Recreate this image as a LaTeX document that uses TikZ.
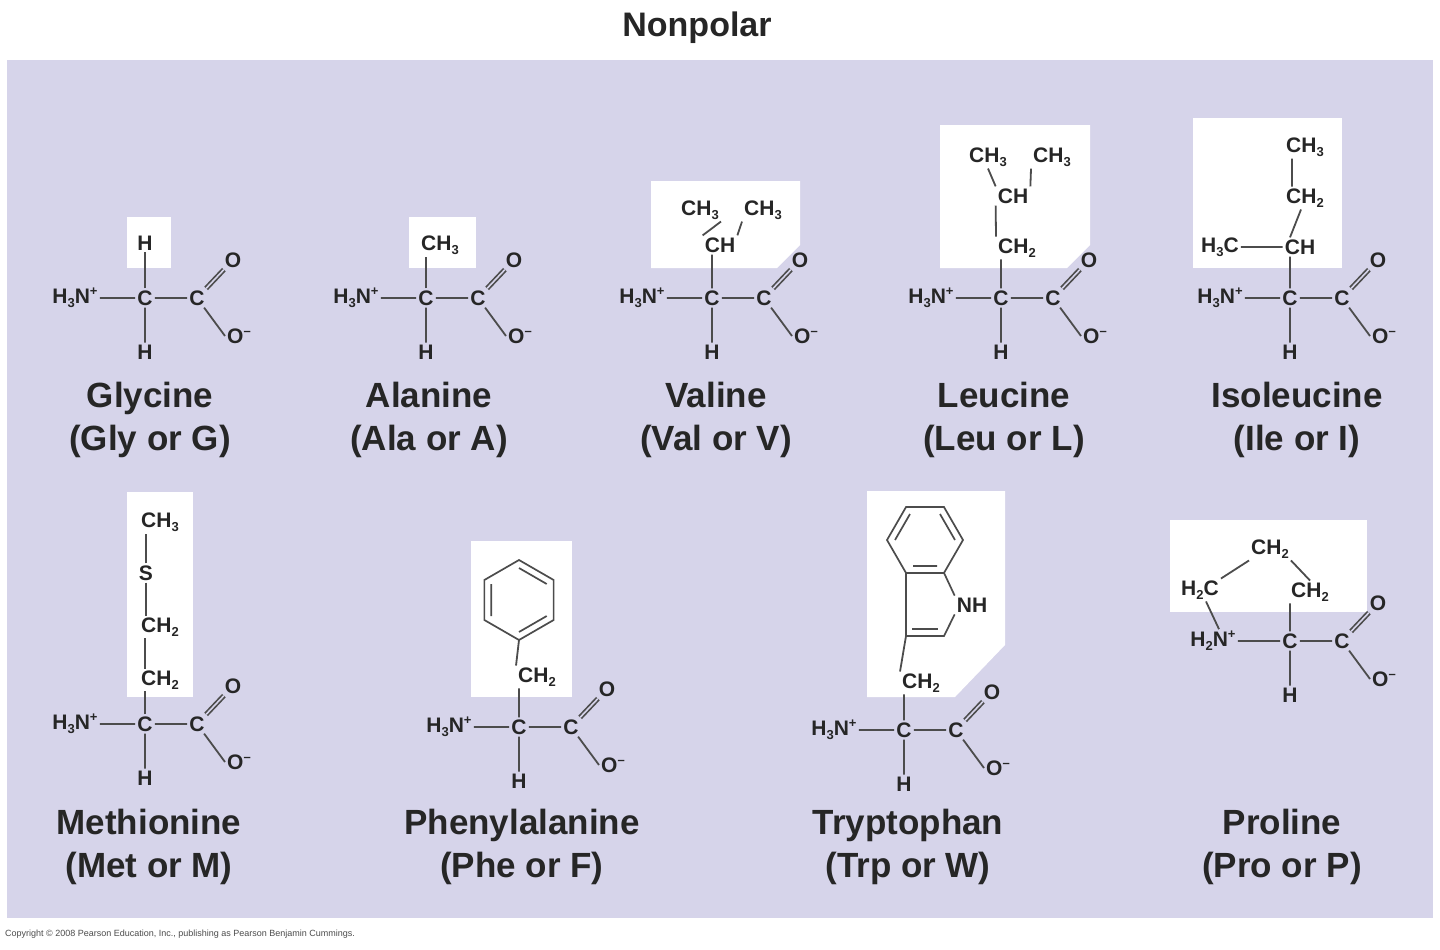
\documentclass[tikz,border=0pt]{standalone}
\usepackage{fontspec}
\setmainfont{Liberation Sans}
\usetikzlibrary{calc}
\definecolor{bg}{HTML}{D6D4EA}
\newcommand\lo[1]{\raisebox{-0.35ex}{\fontsize{13}{13}\selectfont #1}}
\newcommand\hi[1]{\raisebox{0.7ex}{\fontsize{13}{13}\selectfont #1}}
\newcommand\amino[5]{%
 \node[atom] (#1C) at (#2,#3) {C};
 \node[atom] (#1N) at ($(#1C)+(#4,0)$) {#5};
 \node[atom] (#1K) at ($(#1C)+(52,0)$) {C};
 \node[atom] (#1O) at ($(#1C)+(88,-38)$) {O};
 \node[atom] (#1M) at ($(#1C)+(94,38)$) {O\hi{--}};
 \node[atom] (#1H) at ($(#1C)+(0,54)$) {H};
 \draw[bond] (#1N)--(#1C) (#1C)--(#1K) (#1K)--(#1M.west) (#1C)--(#1H);
 \draw[dbond] (#1K)--(#1O);}
\newcommand\hexa[3]{% center, start angle, radius
 \draw[ring] ($(#1)+(#2:#3)$) \foreach \k in {1,...,5} {-- ($(#1)+(#2+60*\k:#3)$)} -- cycle;}
\newcommand\inner[4]{% center, angle a, angle b, radius
 \draw[ring] ($(#1)!0.14!(#2:#4)$) ($(#1)+(#2:#4*0.8)$) -- ($(#1)+(#3:#4*0.8)$);}
\tikzset{
 atom/.style={font=\fontsize{21}{21}\selectfont\bfseries, text=black!85, inner sep=2pt},
 bond/.style={draw=black!70, line width=1.8pt},
 dbond/.style={draw=black!70, line width=5pt, postaction={draw=bg, line width=1.6pt}},
 ring/.style={draw=black!70, line width=1.7pt},
 nm/.style={font=\fontsize{35}{43}\selectfont\bfseries, text=black!85, align=center},
 box/.style={fill=white}
}
\begin{document}
\begin{tikzpicture}[x=1pt,y=-1pt]
\useasboundingbox (0,0) rectangle (1440,950);
\fill[white] (0,0) rectangle (1440,950);
\fill[bg] (7,60) rectangle (1433,918);
\node[font=\fontsize{34}{34}\selectfont\bfseries, text=black!85] (title) at (697,28) {Nonpolar};
\node[anchor=west, font=\fontsize{9}{9}\selectfont, text=black!70, inner sep=0] (copy) at (5,934) {Copyright \copyright\ 2008 Pearson Education, Inc., publishing as Pearson Benjamin Cummings.};
% white boxes
\fill[box] (127,217) rectangle (171,268);
\fill[box] (409,217) rectangle (476,268);
\fill[box] (651,181) -- (800,181) -- (800,245) -- (777,268) -- (651,268) -- cycle;
\fill[box] (940,125) -- (1090,125) -- (1090,245) -- (1067,268) -- (940,268) -- cycle;
\fill[box] (1193,118) rectangle (1342,268);
\fill[box] (127,492) rectangle (193,697);
\fill[box] (471,541) rectangle (572,697);
\fill[box] (867,491) -- (1005,491) -- (1005,645) -- (955,697) -- (867,697) -- cycle;
\fill[box] (1170,520) rectangle (1367,612);
% backbones
\amino{g}{145}{298}{-70}{H\lo{3}N\hi{+}}
\amino{a}{426}{298}{-70}{H\lo{3}N\hi{+}}
\amino{v}{712}{298}{-70}{H\lo{3}N\hi{+}}
\amino{l}{1001}{298}{-70}{H\lo{3}N\hi{+}}
\amino{i}{1290}{298}{-70}{H\lo{3}N\hi{+}}
\amino{m}{145}{724}{-70}{H\lo{3}N\hi{+}}
\amino{f}{519}{727}{-70}{H\lo{3}N\hi{+}}
\amino{w}{904}{730}{-70}{H\lo{3}N\hi{+}}
\amino{p}{1290}{641}{-77}{H\lo{2}N\hi{+}}
% glycine
\node[atom] (gR) at (145,243) {H};
\draw[bond] (gC)--(gR);
% alanine
\node[atom] (aR) at (440,245) {CH\lo{3}};
\draw[bond] (aC)--(aC|-aR.south);
% valine
\node[atom] (vCH) at (720,245) {CH};
\node[atom] (vM1) at (700,210) {CH\lo{3}};
\node[atom] (vM2) at (763,210) {CH\lo{3}};
\draw[bond] (vC)--(vC|-vCH.south) (vCH.north west)--(vM1.south east) (vCH.north east)--(vM2.south west);
% leucine
\node[atom] (lM1) at (988,157) {CH\lo{3}};
\node[atom] (lM2) at (1052,157) {CH\lo{3}};
\node[atom] (lCH) at (1013,196) {CH};
\node[atom] (lCH2) at (1017,248) {CH\lo{2}};
\draw[bond] (lCH.north west)--(lM1.south) (lCH.north east)--(lM2.south west) (lCH.south west)--(lCH2.north west) (lC)--(lC|-lCH2.south);
% isoleucine
\node[atom] (iM) at (1305,147) {CH\lo{3}};
\node[atom] (iCH2) at (1305,198) {CH\lo{2}};
\node[atom] (iCH) at (1300,247) {CH};
\node[atom] (iH3C) at (1220,247) {H\lo{3}C};
\draw[bond] (iM.south west)++(8,0)--([xshift=8pt]iCH2.north west) ([xshift=-4pt]iCH2.south)--([xshift=-10pt]iCH.north) (iH3C)--(iCH) (iC)--(iC|-iCH.south);
% methionine
\node[atom] (mM) at (160,522) {CH\lo{3}};
\node[atom] (mS) at (146,573) {S};
\node[atom] (mA) at (160,627) {CH\lo{2}};
\node[atom] (mB) at (160,680) {CH\lo{2}};
\draw[bond] (mS)--(mS|-mM.south) (mS)--(mS|-mA.north) (mA.south west)++(6,0)--([xshift=6pt]mB.north west) (mC)--(mC|-mB.south);
% phenylalanine (y axis points down: 90 = bottom)
\coordinate (fR) at (519,600);
\hexa{fR}{90}{40}
\draw[ring] ($(fR)+(150:32)$)--($(fR)+(210:32)$) ($(fR)+(270:32)$)--($(fR)+(330:32)$) ($(fR)+(30:32)$)--($(fR)+(90:32)$);
\node[atom] (fCH2) at (537,677) {CH\lo{2}};
\draw[bond] ($(fR)+(90:40)$)--(fCH2.north west) (fC)--(fC|-fCH2.south);
% tryptophan
\coordinate (wR) at (925,540);
\hexa{wR}{0}{38}
\draw[ring] ($(wR)+(60:30)+(-3,0)$)--($(wR)+(120:30)+(3,0)$) ($(wR)+(180:30)$)--($(wR)+(240:30)$) ($(wR)+(300:30)$)--($(wR)+(0:30)$);
\node[atom] (wNH) at (972,605) {NH};
\coordinate (w3) at (906,636);
\coordinate (w2) at (944,636);
\draw[ring] ($(wR)+(120:38)$)--(w3)--(w2)--(wNH.south west) ($(wR)+(60:38)$)--(wNH.north west);
\draw[ring] ($(w3)+(6,-7)$)--($(w2)+(-6,-7)$);
\node[atom] (wCH2) at (921,683) {CH\lo{2}};
\draw[bond] (w3)--(wCH2.north west) (wC)--(wC|-wCH2.south);
% proline
\node[atom] (pT) at (1270,549) {CH\lo{2}};
\node[atom] (pL) at (1200,590) {H\lo{2}C};
\node[atom] (pR) at (1310,592) {CH\lo{2}};
\draw[bond] (pL.north east)--(pT.south west) (pT.south east)--(pR.north) (pC)--(pC|-pR.south) ([xshift=6pt]pL.south)--([xshift=6pt]pN.north);
% names
\node[nm] (n1) at (150,420) {Glycine\\(Gly or G)};
\node[nm] (n2) at (429,420) {Alanine\\(Ala or A)};
\node[nm] (n3) at (716,420) {Valine\\(Val or V)};
\node[nm] (n4) at (1004,420) {Leucine\\(Leu or L)};
\node[nm] (n5) at (1297,420) {Isoleucine\\(Ile or I)};
\node[nm] (n6) at (149,847) {Methionine\\(Met or M)};
\node[nm] (n7) at (522,847) {Phenylalanine\\(Phe or F)};
\node[nm] (n8) at (908,847) {Tryptophan\\(Trp or W)};
\node[nm] (n9) at (1282,847) {Proline\\(Pro or P)};
\end{tikzpicture}
\end{document}
